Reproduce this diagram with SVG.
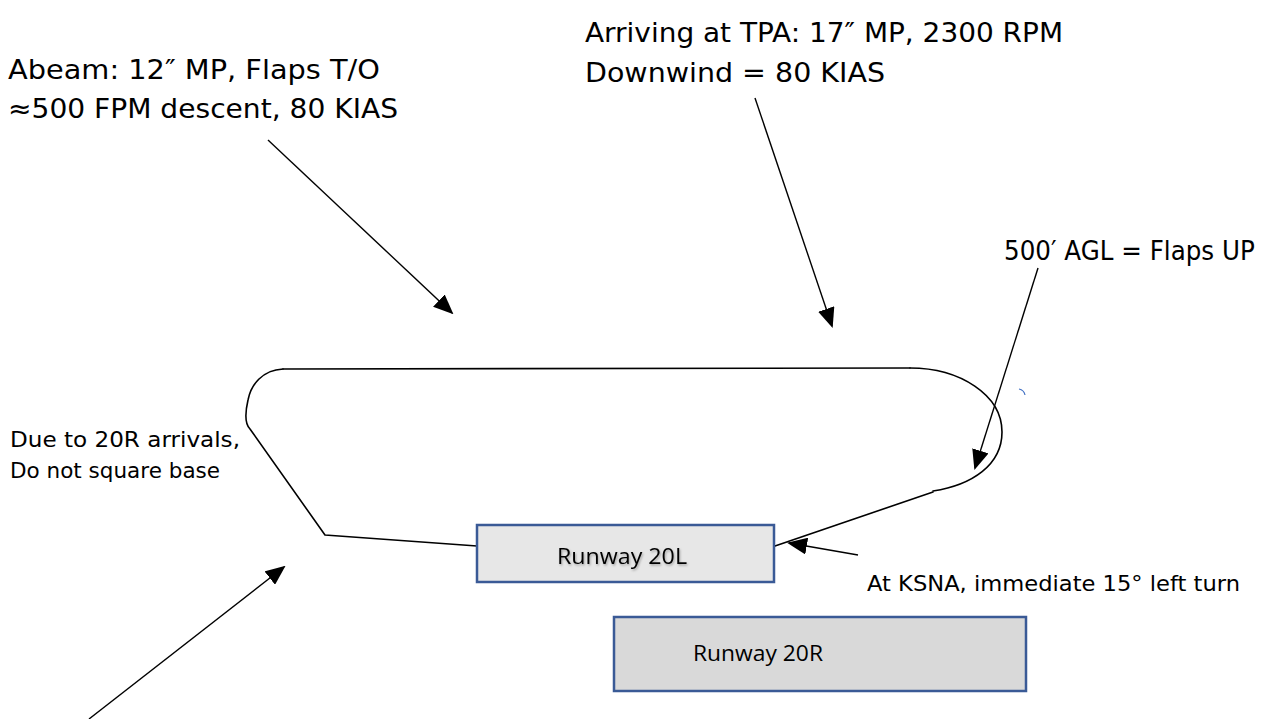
<svg xmlns="http://www.w3.org/2000/svg" width="1273" height="719" viewBox="0 0 1273 719">
  <style>
    .note { font-family: "DejaVu Sans", Verdana, sans-serif; fill: #000; }
    .big { font-size: 27px; }
    .small { font-size: 21.5px; }
    .rwy-label { font-family: "Open Sans", "Liberation Sans", sans-serif; font-size: 22px; fill: #000; text-anchor: middle; }
    .rwy { stroke: #3a5a96; stroke-width: 2.5; }
    .track { fill: none; stroke: #000; stroke-width: 1.6; stroke-linejoin: round; stroke-linecap: round; }
    .pointer { fill: none; stroke: #000; stroke-width: 1.4; marker-end: url(#head); }
  </style>
  <defs>
    <marker id="head" viewBox="0 0 10 10" refX="9" refY="5" markerWidth="20" markerHeight="17" markerUnits="userSpaceOnUse" orient="auto" preserveAspectRatio="none">
      <path d="M0,0 L10,5 L0,10 Z" fill="#000"/>
    </marker>
    <filter id="soft" x="-10%" y="-30%" width="120%" height="160%">
      <feDropShadow dx="1" dy="1.5" stdDeviation="1" flood-color="#000" flood-opacity="0.3"/>
    </filter>
  </defs>

  <rect width="1273" height="719" fill="#fff"/>

  <!-- traffic pattern track -->
  <g id="pattern">
    <path class="track" d="M283,369 L910,368"/>
    <path class="track" d="M910,368 C960,368 1002,395 1002,432 C1002,465 972,485 933,491"/>
    <path class="track" d="M933,492 L775,546"/>
    <path class="track" d="M283,369 C262,370 251,385 248,400 C245,413 245,424 250,429 L325,535 L477,546"/>
    <path d="M1019,389 Q1024,390 1025,395" fill="none" stroke="#4472c4" stroke-width="1.2"/>
  </g>

  <!-- runways -->
  <g id="runway-20L">
    <rect class="rwy" x="477" y="525" width="297" height="57" fill="#e7e7e7"/>
    <text class="rwy-label" x="622" y="564" textLength="130" lengthAdjust="spacingAndGlyphs" filter="url(#soft)">Runway 20L</text>
  </g>
  <g id="runway-20R">
    <rect class="rwy" x="614" y="617" width="412" height="74" fill="#d9d9d9"/>
    <text class="rwy-label" x="758" y="661" textLength="130" lengthAdjust="spacingAndGlyphs">Runway 20R</text>
  </g>

  <!-- callouts -->
  <g id="note-abeam">
    <text class="note big" x="8" y="79" textLength="372" lengthAdjust="spacingAndGlyphs">Abeam: 12″ MP, Flaps T/O</text>
    <text class="note big" x="8" y="118" textLength="390" lengthAdjust="spacingAndGlyphs">≈500 FPM descent, 80 KIAS</text>
  </g>
  <g id="note-tpa">
    <text class="note big" x="585" y="42" textLength="478" lengthAdjust="spacingAndGlyphs">Arriving at TPA: 17″ MP, 2300 RPM</text>
    <text class="note big" x="585" y="82" textLength="300" lengthAdjust="spacingAndGlyphs">Downwind = 80 KIAS</text>
  </g>
  <g id="note-flaps">
    <!-- horizontally condensed so the line stays inside the right margin -->
    <text class="note big" transform="translate(1004,260) scale(0.85,1)" x="0" y="0" textLength="295" lengthAdjust="spacingAndGlyphs">500′ AGL = Flaps UP</text>
  </g>
  <g id="note-base">
    <text class="note small" x="10" y="447" textLength="230" lengthAdjust="spacingAndGlyphs">Due to 20R arrivals,</text>
    <text class="note small" x="10" y="478" textLength="210" lengthAdjust="spacingAndGlyphs">Do not square base</text>
  </g>
  <g id="note-departure">
    <text class="note small" x="867" y="591" textLength="373" lengthAdjust="spacingAndGlyphs">At KSNA, immediate 15° left turn</text>
  </g>

  <!-- pointer arrows -->
  <g id="connectors">
    <line class="pointer" x1="268" y1="140" x2="452" y2="313"/>
    <line class="pointer" x1="755" y1="98" x2="832" y2="326"/>
    <line class="pointer" x1="1038" y1="268" x2="975" y2="468"/>
    <line class="pointer" x1="89" y1="719" x2="284" y2="567"/>
    <line class="pointer" x1="858" y1="555" x2="789" y2="543"/>
  </g>
</svg>
